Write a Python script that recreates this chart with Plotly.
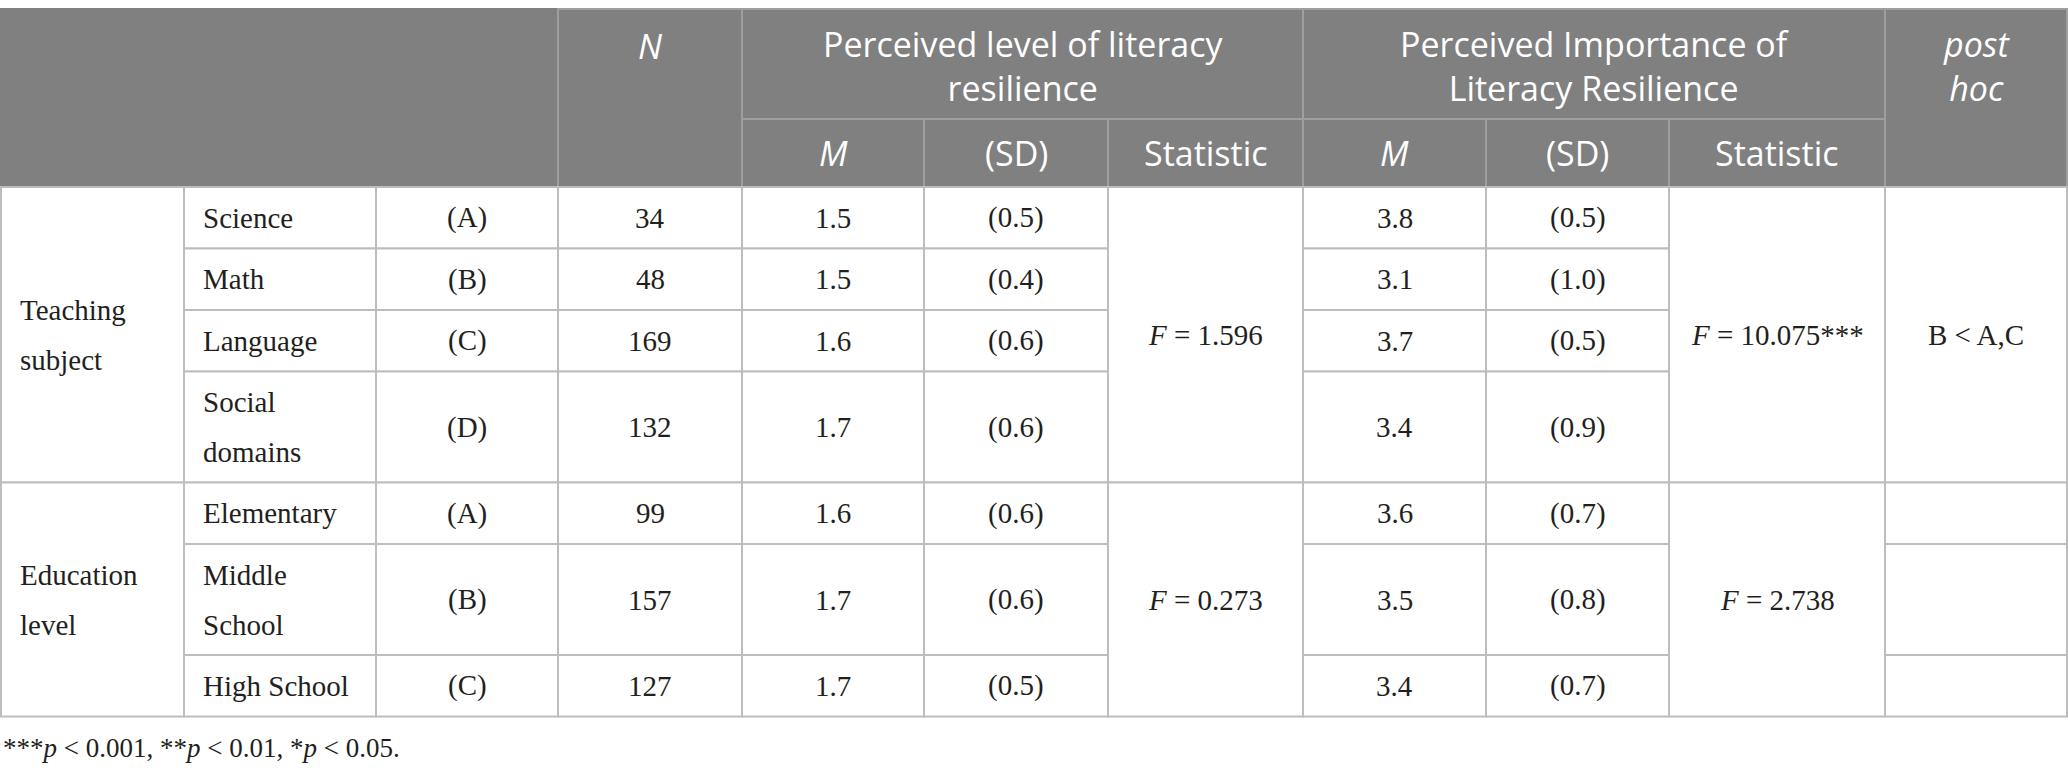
import plotly.graph_objects as go

group_names = ["Teaching\nsubject", "Education\nlevel"]
group_sizes = [4, 3]
categories = ["Science", "Math", "Language", "Social\ndomains",
              "Elementary", "Middle\nSchool", "High School"]
codes = ["(A)", "(B)", "(C)", "(D)", "(A)", "(B)", "(C)"]
n_values = [34, 48, 169, 132, 99, 157, 127]
level_m = [1.5, 1.5, 1.6, 1.7, 1.6, 1.7, 1.7]
level_sd = [0.5, 0.4, 0.6, 0.6, 0.6, 0.6, 0.5]
level_f = [1.596, 0.273]
importance_m = [3.8, 3.1, 3.7, 3.4, 3.6, 3.5, 3.4]
importance_sd = [0.5, 1.0, 0.5, 0.9, 0.7, 0.8, 0.7]
importance_f = [10.075, 2.738]
importance_sig = ["***", ""]
post_hoc = ["B &lt; A,C", None]   # None -> one empty cell per row
header_groups = ["Perceived level of literacy<br>resilience",
                 "Perceived Importance of<br>Literacy Resilience"]
sub_headers = ["<i>M</i>", "(SD)", "Statistic"]
footnote = "***<i>p</i> &lt; 0.001, **<i>p</i> &lt; 0.01, *<i>p</i> &lt; 0.05."

# layout
W, H = 2068, 775
col_w = [183, 192, 182, 184, 182, 184, 195, 183, 183, 216, 182]
top = 9
head_h = [110, 68]
line_h = {1: 61.5, 2: 111}
HEAD_BG = "#7f807f"
HEAD_LINE = "#9d9e9d"
BODY_LINE = "#bdbdbd"
TEXT = "#231f20"
SANS = "Open Sans"
SERIF = "Liberation Serif"
HFS, BFS = 34, 29

xs = [0]
for w in col_w:
    xs.append(xs[-1] + w)

fig = go.Figure()
shapes, notes = [], []


def rect(c0, c1, y0, y1, fill, line):
    shapes.append(dict(type="rect", xref="x", yref="y", x0=xs[c0], x1=xs[c1],
                       y0=y0, y1=y1, fillcolor=fill, layer="below",
                       line=dict(color=line, width=2)))


def label(text, x, y, size, family, color, xanchor="center"):
    notes.append(dict(text=text, x=x, y=y, xref="x", yref="y", showarrow=False,
                      xanchor=xanchor, yanchor="middle",
                      font=dict(size=size, family=family, color=color)))


def body_text(text, c0, c1, y0, y1, left=False):
    # serif body: one annotation per line, wide line gap like the original
    x = xs[c0] + 17 if left else (xs[c0] + xs[c1]) / 2
    parts = text.split("\n")
    mid = (y0 + y1) / 2
    for k, ln in enumerate(parts):
        label(ln, x, mid + (k - (len(parts) - 1) / 2) * 50, BFS, SERIF, TEXT,
              "left" if left else "center")


# header
h1 = top + head_h[0]
h2 = h1 + head_h[1]
rect(0, 3, top, h2, HEAD_BG, HEAD_BG)
rect(3, 4, top, h2, HEAD_BG, HEAD_LINE)
label("<i>N</i>", (xs[3] + xs[4]) / 2, 46, HFS, SANS, "white")
for g, c0 in enumerate([4, 7]):
    rect(c0, c0 + 3, top, h1, HEAD_BG, HEAD_LINE)
    label(header_groups[g], (xs[c0] + xs[c0 + 3]) / 2, 66, HFS, SANS, "white")
    for j, s in enumerate(sub_headers):
        rect(c0 + j, c0 + j + 1, h1, h2, HEAD_BG, HEAD_LINE)
        label(s, (xs[c0 + j] + xs[c0 + j + 1]) / 2, (h1 + h2) / 2, HFS, SANS, "white")
rect(10, 11, top, h2, HEAD_BG, HEAD_LINE)
label("<i>post<br>hoc</i>", (xs[10] + xs[11]) / 2, 66, HFS, SANS, "white")

# body
y = h2
i = 0
for g, size in enumerate(group_sizes):
    rows = range(i, i + size)
    heights = [line_h[len(categories[r].split("\n"))] for r in rows]
    g0, g1 = y, y + sum(heights)
    rect(0, 1, g0, g1, "white", BODY_LINE)
    body_text(group_names[g], 0, 1, g0, g1, left=True)
    ry = g0
    for r, hgt in zip(rows, heights):
        cells = [categories[r], codes[r], str(n_values[r]),
                 f"{level_m[r]:.1f}", f"({level_sd[r]:.1f})", None,
                 f"{importance_m[r]:.1f}", f"({importance_sd[r]:.1f})"]
        for c, txt in zip([1, 2, 3, 4, 5, 6, 7, 8], cells):
            if txt is None:
                continue
            rect(c, c + 1, ry, ry + hgt, "white", BODY_LINE)
            body_text(txt, c, c + 1, ry, ry + hgt, left=(c == 1))
        if post_hoc[g] is None:
            rect(10, 11, ry, ry + hgt, "white", BODY_LINE)
        ry += hgt
    rect(6, 7, g0, g1, "white", BODY_LINE)
    body_text(f"<i>F</i> = {level_f[g]:.3f}", 6, 7, g0, g1)
    rect(9, 10, g0, g1, "white", BODY_LINE)
    body_text(f"<i>F</i> = {importance_f[g]:.3f}{importance_sig[g]}", 9, 10, g0, g1)
    if post_hoc[g] is not None:
        rect(10, 11, g0, g1, "white", BODY_LINE)
        body_text(post_hoc[g], 10, 11, g0, g1)
    y = g1
    i += size

label(footnote, 0, y + 31, 27, SERIF, TEXT, xanchor="left")

# invisible trace so the axes exist
fig.add_trace(go.Scatter(x=[0, W], y=[0, H], mode="markers",
                         marker=dict(opacity=0), hoverinfo="skip", showlegend=False))
fig.update_layout(width=W, height=H, margin=dict(l=0, r=0, t=0, b=0),
                  autosize=False, paper_bgcolor="white", plot_bgcolor="white",
                  shapes=shapes, annotations=notes, showlegend=False)
fig.update_xaxes(range=[-1, W - 1], visible=False, fixedrange=True)
fig.update_yaxes(range=[H, 0], visible=False, fixedrange=True)

fig.write_html("out.html", config={"displayModeBar": False},
               post_script="document.body.style.margin = '0';")
